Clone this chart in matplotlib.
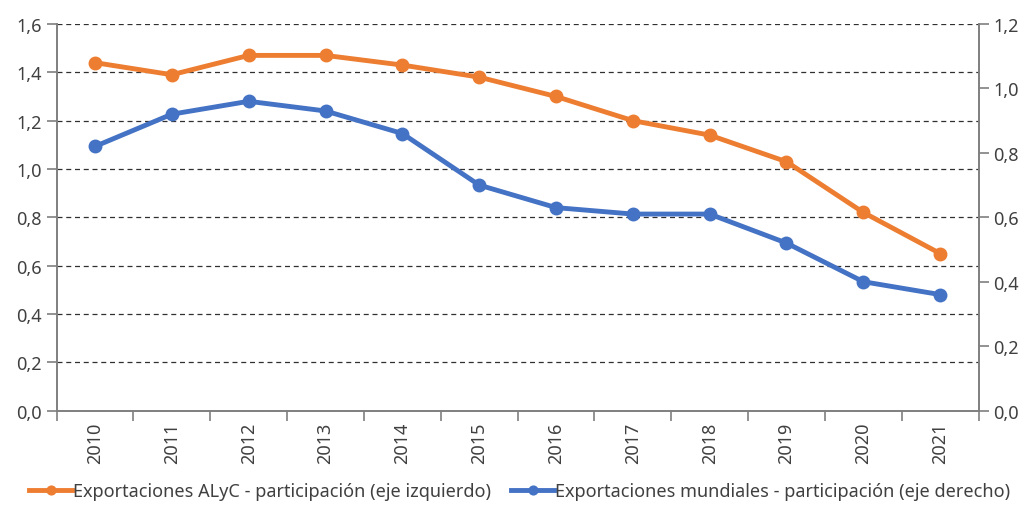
import numpy as np
import matplotlib
matplotlib.use("Agg")
from matplotlib import pyplot as plt
from matplotlib.ticker import FixedLocator, FuncFormatter

# data
years = ['2010', '2011', '2012', '2013', '2014', '2015',
         '2016', '2017', '2018', '2019', '2020', '2021']
alyc = [1.44, 1.39, 1.47, 1.47, 1.43, 1.38, 1.30, 1.20, 1.14, 1.03, 0.82, 0.65]
mundo = [0.82, 0.92, 0.96, 0.93, 0.86, 0.70, 0.63, 0.61, 0.61, 0.52, 0.40, 0.36]
lbl_alyc = 'Exportaciones ALyC - participación (eje izquierdo)'
lbl_mundo = 'Exportaciones mundiales - participación (eje derecho)'

plt.rcParams['font.family'] = ['Noto Sans', 'DejaVu Sans']
txt = '#404040'
spine = '#7f7f7f'
orange = '#ED7D31'
blue = '#4472C4'

def comma(v, pos):
    return ('%.1f' % v).replace('.', ',')

fig = plt.figure(figsize=(10.29, 5.10), dpi=100)
ax = fig.add_axes([0.055, 0.193, 0.896, 0.758])
ax2 = ax.twinx()

x = np.arange(len(years))
l1, = ax.plot(x, alyc, color=orange, lw=3.5, marker='o', ms=9, label=lbl_alyc, zorder=3)
l2, = ax2.plot(x, mundo, color=blue, lw=3.5, marker='o', ms=9, label=lbl_mundo, zorder=3)

ax.set_xlim(-0.5, len(years) - 0.5)
ax.set_ylim(0, 1.6)
ax2.set_ylim(0, 1.2)
ax.set_yticks(np.arange(0, 1.61, 0.2))
ax2.set_yticks(np.arange(0, 1.21, 0.2))
ax.yaxis.set_major_formatter(FuncFormatter(comma))
ax2.yaxis.set_major_formatter(FuncFormatter(comma))

ax.yaxis.grid(True, ls=(0, (4, 3)), color='#303030', lw=0.9)
ax.set_axisbelow(True)

# categories labelled at centers, ticks at boundaries
ax.set_xticks(x)
ax.set_xticklabels(years, rotation=90)
ax.tick_params(axis='x', which='major', length=0, pad=8)
ax.xaxis.set_minor_locator(FixedLocator(np.arange(-0.5, len(years), 1)))
ax.tick_params(axis='x', which='minor', length=7, color=spine, width=1.2)

for a in (ax, ax2):
    a.spines['top'].set_visible(False)
    for s in ('left', 'right', 'bottom'):
        a.spines[s].set_color(spine)
        a.spines[s].set_linewidth(1.2)
    a.tick_params(axis='y', length=7, color=spine, width=1.2, labelsize=13, labelcolor=txt)
ax.tick_params(axis='x', labelsize=13, labelcolor=txt)

fig.legend(handles=[l1, l2], loc='lower center', bbox_to_anchor=(0.505, -0.014), ncol=2,
           frameon=False, fontsize=13, labelcolor=txt, handlelength=2.4,
           handletextpad=0.05, columnspacing=1.1, markerscale=0.7)

fig.savefig('out.png', dpi=100)
